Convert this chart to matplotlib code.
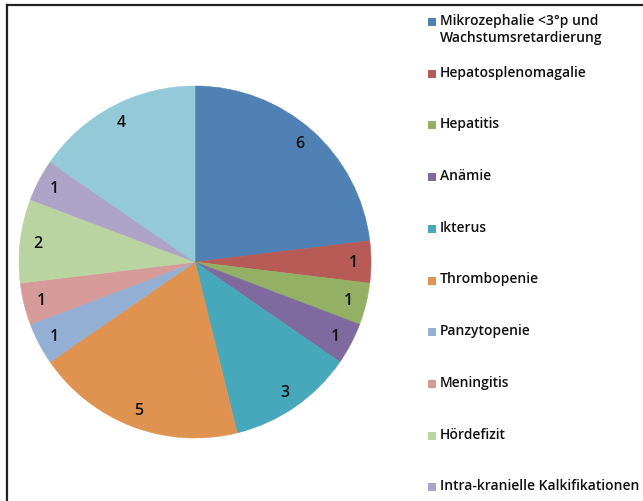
import matplotlib
matplotlib.use("Agg")
import matplotlib.pyplot as plt
from matplotlib.lines import Line2D
from matplotlib.patches import Rectangle

categories = [
    "Mikrozephalie <3°p und\nWachstumsretardierung",
    "Hepatosplenomagalie",
    "Hepatitis",
    "Anämie",
    "Ikterus",
    "Thrombopenie",
    "Panzytopenie",
    "Meningitis",
    "Hördefizit",
    "Intra-kranielle Kalkifikationen",
    "Chorioretinitis",
]
values = [6, 1, 1, 1, 3, 5, 1, 1, 2, 1, 4]
colors = ["#4F81B5", "#B65B56", "#93B064", "#7F6AA0", "#46A8BA", "#E09350",
          "#93AFD3", "#D69B99", "#B9D4A0", "#ADA3C6", "#94C9D8"]

plt.rcParams['font.family'] = ['Open Sans', 'DejaVu Sans']

W, H = 643, 502
fig = plt.figure(figsize=(W / 100, H / 100), dpi=100)
fig.patch.set_facecolor("white")

# pie axes: center (195, 263) px, radius 176 px
cx, cy, r = 195, 263, 176
ax = fig.add_axes([(cx - r) / W, (H - cy - r) / H, 2 * r / W, 2 * r / H])
wedges, texts = ax.pie(values, colors=colors, startangle=90, counterclock=False,
                       labels=[str(v) for v in values], labeldistance=0.9,
                       wedgeprops=dict(linewidth=0),
                       textprops=dict(fontsize=11.5, color="#111111", fontweight="semibold"))
for w, c in zip(wedges, colors):
    w.set_edgecolor(c)
    w.set_linewidth(0.4)
for t in texts:
    t.set_ha("center")
    t.set_va("center")
ax.set_xlim(-1, 1)
ax.set_ylim(-1, 1)
ax.set_aspect("equal")
ax.axis("off")

# frame lines (top and left)
fig.add_artist(Line2D([7 / W, 1.0], [1 - 6 / H, 1 - 6 / H], transform=fig.transFigure,
                      color="#222222", linewidth=1.6))
fig.add_artist(Line2D([7 / W, 7 / W], [0, 1 - 6 / H], transform=fig.transFigure,
                      color="#222222", linewidth=1.6))

# legend (only visible entries fit in the frame)
y0, dy = 23, 51.7
for i, (lab, col) in enumerate(zip(categories, colors)):
    y = y0 + dy * i
    if y > H - 5:
        break
    fig.add_artist(Rectangle(((428) / W, 1 - (y + 4) / H), 8 / W, 8 / H,
                             transform=fig.transFigure, facecolor=col, edgecolor="none"))
    fig.text(440 / W, 1 - (y - 9) / H, lab, ha="left", va="top", fontsize=10,
             color="#111111", linespacing=1.3, fontweight="semibold")

fig.savefig("out.png", dpi=100, facecolor="white")
